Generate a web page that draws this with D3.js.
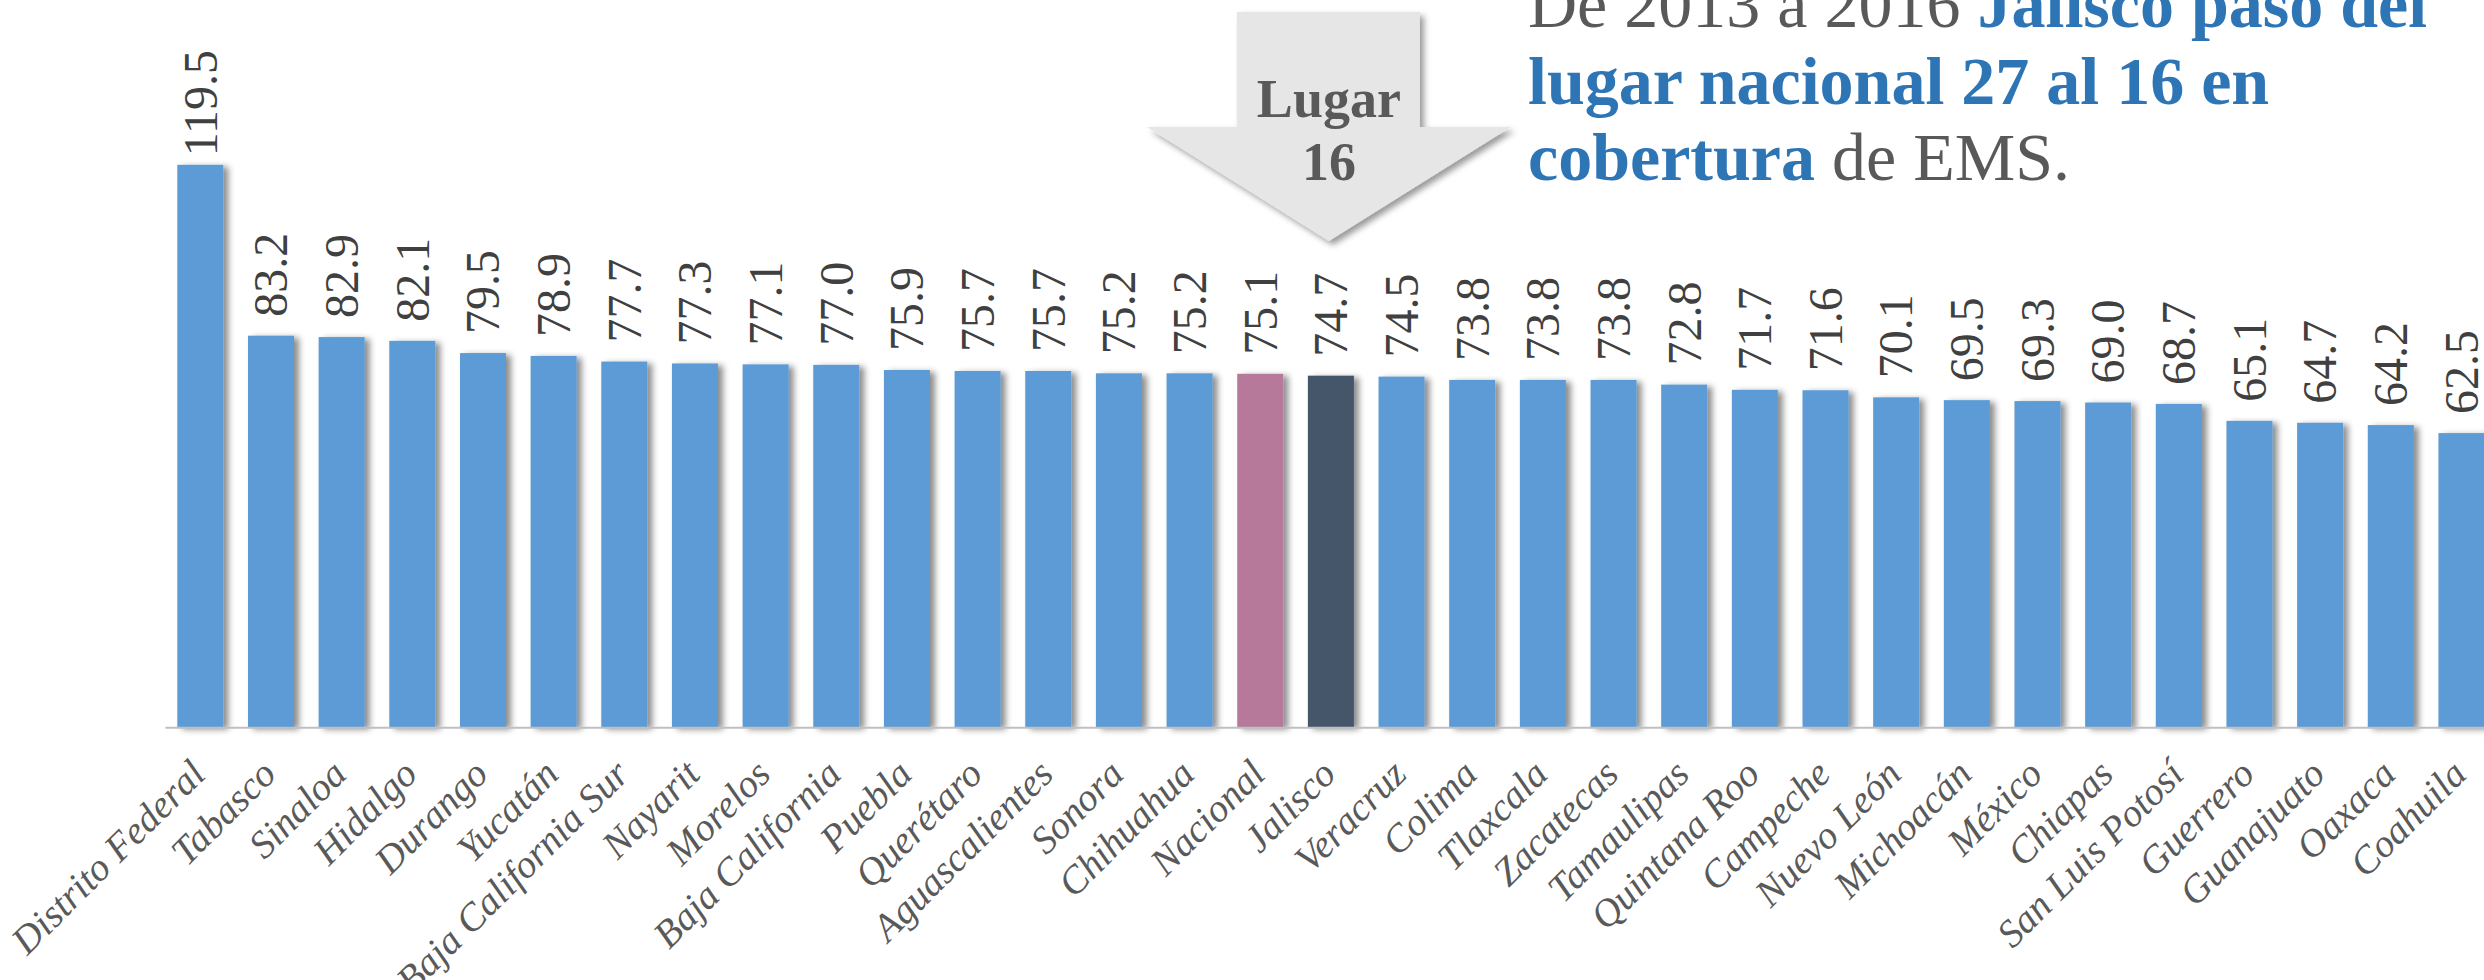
<!DOCTYPE html>
<html>
<head>
<meta charset="utf-8">
<script src="https://cdn.jsdelivr.net/npm/d3@7"></script>
<style>
  body { margin: 0; background: #fff; }
</style>
</head>
<body>
<div id="chart"></div>
<script>
var estados = ["Distrito Federal", "Tabasco", "Sinaloa", "Hidalgo", "Durango", "Yucatán",
    "Baja California Sur", "Nayarit", "Morelos", "Baja California", "Puebla", "Querétaro",
    "Aguascalientes", "Sonora", "Chihuahua", "Nacional", "Jalisco", "Veracruz", "Colima",
    "Tlaxcala", "Zacatecas", "Tamaulipas", "Quintana Roo", "Campeche", "Nuevo León",
    "Michoacán", "México", "Chiapas", "San Luis Potosí", "Guerrero", "Guanajuato",
    "Oaxaca", "Coahuila"];

var cobertura = [119.5, 83.2, 82.9, 82.1, 79.5, 78.9, 77.7, 77.3, 77.1, 77.0, 75.9, 75.7,
    75.7, 75.2, 75.2, 75.1, 74.7, 74.5, 73.8, 73.8, 73.8, 72.8, 71.7, 71.6, 70.1,
    69.5, 69.3, 69.0, 68.7, 65.1, 64.7, 64.2, 62.5];

var nacional = "Nacional",
    jalisco = "Jalisco";

var titulo = [
    [{ t: "De 2013 a 2016 ", bold: false }, { t: "Jalisco paso del", bold: true }],
    [{ t: "lugar nacional 27 al 16 en", bold: true }],
    [{ t: "cobertura", bold: true }, { t: " de EMS.", bold: false }]
];

var width = 2484,
    height = 980;

var svg = d3.select("#chart").append("svg")
    .attr("width", width)
    .attr("height", height)
    .style("display", "block");

var defs = svg.append("defs");

// sombra de las barras
var sombra = defs.append("filter")
    .attr("id", "sombra")
    .attr("x", "-20%").attr("y", "-5%")
    .attr("width", "160%").attr("height", "115%");
sombra.append("feDropShadow")
    .attr("dx", 5).attr("dy", 2)
    .attr("stdDeviation", 3)
    .attr("flood-color", "#000")
    .attr("flood-opacity", 0.45);

var sombraFlecha = defs.append("filter")
    .attr("id", "sombraFlecha")
    .attr("x", "-10%").attr("y", "-10%")
    .attr("width", "130%").attr("height", "130%");
sombraFlecha.append("feDropShadow")
    .attr("dx", 4).attr("dy", 4)
    .attr("stdDeviation", 3)
    .attr("flood-color", "#000")
    .attr("flood-opacity", 0.4);

var x = d3.scaleBand()
    .domain(estados)
    .range([165, 165 + 33 * 70.66])
    .paddingInner(0.349)
    .paddingOuter(0.1745);

var y = d3.scaleLinear()
    .domain([0, 140])
    .range([727.3, 68.3]);

var datos = estados.map(function (d, i) {
    return { estado: d, valor: cobertura[i] };
});

function color(d) {
    if (d.estado == nacional) return "#B7799A";
    if (d.estado == jalisco) return "#44546A";
    return "#5B9BD5";
}

// barras
svg.append("g")
    .selectAll("rect")
    .data(datos)
    .enter().append("rect")
    .attr("x", function (d) { return x(d.estado); })
    .attr("y", function (d) { return y(d.valor); })
    .attr("width", x.bandwidth())
    .attr("height", function (d) { return y(0) - y(d.valor); })
    .attr("fill", color)
    .attr("filter", "url(#sombra)");

// eje
var eje = svg.append("g")
    .attr("transform", "translate(0," + y(0) + ")")
    .call(d3.axisBottom(x).tickSize(0).tickFormat(""));
eje.select(".domain")
    .attr("stroke", "#BFBFBF")
    .attr("stroke-width", 2);

// etiquetas de estados
svg.append("g")
    .selectAll("text")
    .data(datos)
    .enter().append("text")
    .attr("transform", function (d) {
        var cx = x(d.estado) + x.bandwidth() / 2 + 7;
        return "translate(" + cx + "," + (y(0) + 49) + ") rotate(-45)";
    })
    .attr("text-anchor", "end")
    .style("font-family", "'Liberation Serif', serif")
    .style("font-style", "italic")
    .style("font-size", "39px")
    .attr("fill", "#595959")
    .text(function (d) { return d.estado; });

// valores (se mantienen dentro del área del gráfico)
var valores = svg.append("g")
    .selectAll("text")
    .data(datos)
    .enter().append("text")
    .attr("dy", "0.34em")
    .style("font-family", "'Liberation Serif', serif")
    .style("font-size", "48px")
    .attr("fill", "#404040")
    .text(function (d) { return d.valor.toFixed(1); });

valores.attr("transform", function (d) {
    var cx = x(d.estado) + x.bandwidth() / 2;
    var largo = this.getComputedTextLength();
    var base = Math.max(y(d.valor) - 19, 50 + largo);
    return "translate(" + cx + "," + base + ") rotate(-90)";
});

// flecha sobre Jalisco
var fx = x(jalisco) + x.bandwidth() / 2 - 2;
var flecha = d3.path();
flecha.moveTo(fx - 92, 12);
flecha.lineTo(fx + 91, 12);
flecha.lineTo(fx + 91, 127);
flecha.lineTo(fx + 182, 127);
flecha.lineTo(fx, 241);
flecha.lineTo(fx - 182, 127);
flecha.lineTo(fx - 92, 127);
flecha.closePath();

svg.append("path")
    .attr("d", flecha.toString())
    .attr("fill", "#E6E6E6")
    .attr("filter", "url(#sombraFlecha)");

var txtFlecha = svg.append("text")
    .attr("text-anchor", "middle")
    .style("font-family", "'Liberation Serif', serif")
    .style("font-weight", "bold")
    .style("font-size", "54px")
    .attr("fill", "#595959");
txtFlecha.append("tspan").attr("x", fx).attr("y", 117).text("Lugar");
txtFlecha.append("tspan").attr("x", fx).attr("y", 180).text("16");

// texto de la derecha
var lineas = svg.append("g")
    .style("font-family", "'Liberation Serif', serif")
    .style("font-size", "68px");

titulo.forEach(function (linea, i) {
    var t = lineas.append("text")
        .attr("x", 1528)
        .attr("y", 27 + i * 76.5);
    linea.forEach(function (p) {
        t.append("tspan")
            .style("font-weight", p.bold ? "bold" : "normal")
            .attr("fill", p.bold ? "#2E75B6" : "#595959")
            .text(p.t);
    });
});
</script>
</body>
</html>
